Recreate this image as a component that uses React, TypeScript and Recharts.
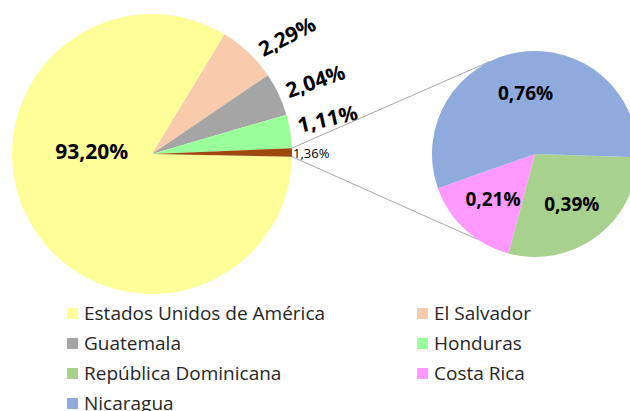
import { PieChart, Pie, Cell } from "recharts";

// main pie: slice shares as drawn, labels as printed
const mainNames = ["Estados Unidos de América", "El Salvador", "Guatemala", "Honduras", "Otros"];
const mainShares = [83.36, 6.83, 4.97, 3.86, 0.97];
const mainLabels = ["93,20%", "2,29%", "2,04%", "1,11%", "1,36%"];
const mainColors = ["#FFFF99", "#F8CBAD", "#A5A5A5", "#99FF99", "#9E480E"];

// secondary pie (breakdown of "Otros")
const subNames = ["República Dominicana", "Costa Rica", "Nicaragua"];
const subValues = [0.39, 0.21, 0.76];
const subLabels = ["0,39%", "0,21%", "0,76%"];
const subColors = ["#A9D18E", "#FF99FF", "#8FAADC"];

const legendItems = [
  { name: "Estados Unidos de América", color: "#FFFF99" },
  { name: "El Salvador", color: "#F8CBAD" },
  { name: "Guatemala", color: "#A5A5A5" },
  { name: "Honduras", color: "#99FF99" },
  { name: "República Dominicana", color: "#A9D18E" },
  { name: "Costa Rica", color: "#FF99FF" },
  { name: "Nicaragua", color: "#8FAADC" },
];

const FONT = "'Open Sans', sans-serif";
const SUB = { cx: 535, cy: 154, r: 103 };
const RAD = Math.PI / 180;

function polar(cx: number, cy: number, r: number, a: number) {
  return [cx + r * Math.cos(-a * RAD), cy + r * Math.sin(-a * RAD)];
}

function mainLabel(p: any) {
  const { cx, cy, midAngle, outerRadius, index, startAngle, endAngle } = p;
  const text = mainLabels[index];
  if (index === 0) {
    return (
      <text x={cx - outerRadius * 0.43} y={cy - 3} textAnchor="middle" dominantBaseline="central"
        fontFamily={FONT} fontWeight="bold" fontSize={21} fill="#000">
        {text}
      </text>
    );
  }
  if (index === mainLabels.length - 1) {
    const top = polar(cx, cy, outerRadius, Math.max(startAngle, endAngle));
    const bot = polar(cx, cy, outerRadius, Math.min(startAngle, endAngle));
    const t1 = polar(SUB.cx, SUB.cy, SUB.r, 116);
    const t2 = polar(SUB.cx, SUB.cy, SUB.r, 236);
    return (
      <g>
        <line x1={top[0]} y1={top[1]} x2={t1[0]} y2={t1[1]} stroke="#A6A6A6" strokeWidth={1} />
        <line x1={bot[0]} y1={bot[1]} x2={t2[0]} y2={t2[1]} stroke="#A6A6A6" strokeWidth={1} />
        <text x={cx + outerRadius + 1} y={cy - 1} textAnchor="start" dominantBaseline="central"
          fontFamily={FONT} fontSize={13} fill="#000">
          {text}
        </text>
      </g>
    );
  }
  const [x, y] = polar(cx, cy, outerRadius + 39, midAngle * 0.8 + 4);
  const rot = -(midAngle * 0.4 + 9);
  return (
    <text x={x} y={y} textAnchor="middle" dominantBaseline="central" transform={`rotate(${rot} ${x} ${y})`}
      fontFamily={FONT} fontWeight="bold" fontSize={21} fill="#000">
      {text}
    </text>
  );
}

function subLabel(p: any) {
  const { cx, cy, midAngle, outerRadius, index } = p;
  const [x, y] = polar(cx, cy, outerRadius * 0.6, midAngle);
  return (
    <text x={x} y={y} textAnchor="middle" dominantBaseline="central"
      fontFamily={FONT} fontWeight="bold" fontSize={19} fill="#000">
      {subLabels[index]}
    </text>
  );
}

export default function App() {
  const mainData = mainNames.map((n, i) => ({ name: n, value: mainShares[i] }));
  const subData = subNames.map((n, i) => ({ name: n, value: subValues[i] }));

  return (
    <div style={{ position: "absolute", left: 0, top: 0, width: 630, height: 411, background: "#fff", overflow: "hidden" }}>
      <PieChart width={630} height={411} margin={{ top: 0, right: 0, bottom: 0, left: 0 }}>
        <Pie data={subData} dataKey="value" cx={SUB.cx} cy={SUB.cy} outerRadius={SUB.r}
          startAngle={358.2} endAngle={-1.8} stroke="none" label={subLabel} labelLine={false}
          isAnimationActive={false}>
          {subColors.map((c, i) => <Cell key={i} fill={c} />)}
        </Pie>
        <Pie data={mainData} dataKey="value" cx={152} cy={154} outerRadius={140}
          startAngle={358.9} endAngle={-1.1} stroke="none" label={mainLabel} labelLine={false}
          isAnimationActive={false}>
          {mainColors.map((c, i) => <Cell key={i} fill={c} />)}
        </Pie>
      </PieChart>
      {legendItems.map((it, i) => {
        const col = i % 2;
        const row = Math.floor(i / 2);
        return (
          <div key={it.name} style={{
            position: "absolute", left: col === 0 ? 67 : 417, top: 313 + row * 30 - 12,
            height: 24, display: "flex", alignItems: "center", fontFamily: FONT, fontSize: 19, color: "#262626",
            whiteSpace: "nowrap",
          }}>
            <span style={{ width: 11, height: 11, background: it.color, marginRight: 6, display: "inline-block", flexShrink: 0 }} />
            {it.name}
          </div>
        );
      })}
    </div>
  );
}
